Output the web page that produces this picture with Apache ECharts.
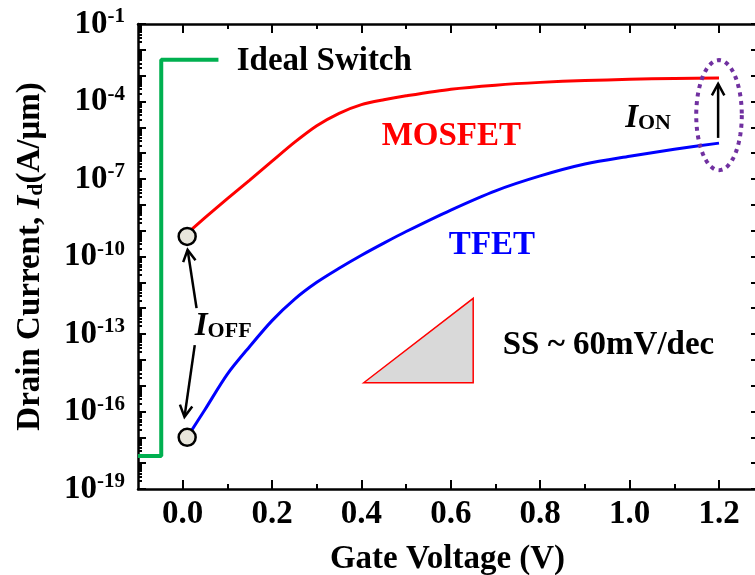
<!DOCTYPE html>
<html lang="en">
<head>
<meta charset="utf-8">
<title>Drain current vs gate voltage</title>
<script src="https://cdn.jsdelivr.net/npm/echarts@6/dist/echarts.min.js"></script>
<style>
  html, body { margin: 0; padding: 0; background: #fff; }
  #main { width: 755px; height: 575px; }
</style>
</head>
<body>
<div id="main"></div>
<script>
// gate voltage samples (V)
const gateV = [0.01, 0.05, 0.10, 0.15, 0.20, 0.25, 0.30, 0.35, 0.40, 0.45, 0.50, 0.60, 0.70, 0.80, 0.90, 1.00, 1.10, 1.20];
// drain current (A/um)
const mosfetId = [7.9e-10, 3.2e-9, 1.74e-8, 9.1e-8, 4.9e-7, 2.6e-6, 1.15e-5, 3.5e-5, 7.6e-5, 1.17e-4, 1.66e-4, 3.0e-4, 4.3e-4, 5.5e-4, 6.5e-4, 7.2e-4, 7.8e-4, 8.1e-4];
const tfetId = [1.0e-17, 1.2e-16, 2.8e-15, 3.3e-14, 3.3e-13, 2.2e-12, 1.0e-11, 3.5e-11, 1.12e-10, 3.3e-10, 9.3e-10, 6.3e-9, 3.5e-8, 1.32e-7, 3.8e-7, 7.6e-7, 1.41e-6, 2.45e-6];

// ideal switch step
const idealV = [-0.1, -0.048, -0.048, 0.08];
const idealId = [1.9e-18, 1.9e-18, 4.1e-3, 4.1e-3];

// I_OFF circles
const offV = [0.01, 0.01];
const offId = [6.0e-10, 1.0e-17];

// SS ~ 60mV/dec triangle
const triV = [0.405, 0.65, 0.65];
const triId = [1.3e-15, 2.4e-12, 1.3e-15];

// dotted ellipse round I_ON (bounding box)
const ellV = [1.149, 1.251];
const ellId = [2.2e-7, 4.0e-3];

// arrows: from V, from Id, to V, to Id
const arrows = [
  [0.031, 1.0e-12, 0.011, 1.8e-10],
  [0.027, 3.7e-14, 0.004, 6.2e-17],
  [1.198, 3.9e-6, 1.198, 4.8e-4]
];

// text notes
const noteText = ['Ideal Switch', '{r|MOSFET}', '{b|TFET}', '{i|I}{s|ON}', '{i|I}{s|OFF}', 'SS ~ 60mV/dec'];
const noteV = [0.121, 0.601, 0.692, 0.990, 0.027, 0.716];
const noteId = [3.4e-3, 4.3e-6, 2.75e-10, 2.3e-5, 2.0e-13, 3.7e-14];
const noteAlign = ['left', 'center', 'center', 'left', 'left', 'left'];

// ticks
const xMajor = [0, 0.2, 0.4, 0.6, 0.8, 1.0, 1.2];
const xMinor = [0.1, 0.3, 0.5, 0.7, 0.9, 1.1];
const yLabels = [1e-19, 1e-16, 1e-13, 1e-10, 1e-7, 1e-4, 1e-1];
const yDecades = [];
const yMinor = [];
for (let p = -19; p <= -1; p++) {
  yDecades.push(Number('1e' + p));
  if (p < -1) for (let k = 2; k <= 9; k++) yMinor.push(Number(k + 'e' + p));
}

const FONT = '"Liberation Serif", "Times New Roman", serif';
const FS = 33;
const BLACK = '#000';

const chart = echarts.init(document.getElementById('main'));

function xAx(pos, vals, len, main) {
  return {
    type: 'value', gridIndex: 0, position: pos, min: -0.1, max: 1.285,
    axisLine: { show: main, onZero: false, lineStyle: { color: BLACK, width: 2.5 } },
    axisTick: { show: true, inside: true, length: len, customValues: vals, lineStyle: { color: BLACK, width: 2 } },
    axisLabel: { show: false },
    splitLine: { show: false }
  };
}
function yAx(pos, vals, len, main) {
  return {
    type: 'log', logBase: 10, gridIndex: 0, position: pos, min: 1e-19, max: 1e-1,
    axisLine: { show: main, onZero: false, lineStyle: { color: BLACK, width: 2.5 } },
    axisTick: { show: true, inside: true, length: len, customValues: vals, lineStyle: { color: BLACK, width: 2 } },
    axisLabel: { show: false },
    splitLine: { show: false }
  };
}

const xMain = xAx('bottom', xMajor, 9, true);
xMain.axisLabel = {
  show: true, customValues: xMajor, margin: 9,
  color: BLACK, fontFamily: FONT, fontWeight: 'bold', fontSize: FS,
  formatter: v => v.toFixed(1)
};
xMain.name = 'Gate Voltage (V)';
xMain.nameLocation = 'middle';
xMain.nameGap = 54;
xMain.nameTextStyle = { color: BLACK, fontFamily: FONT, fontWeight: 'bold', fontSize: FS };

const yMain = yAx('left', yDecades, 8, true);
yMain.axisLabel = {
  show: true, customValues: yLabels, margin: 13,
  formatter: v => '{b|10}{s|' + Math.round(Math.log10(v)) + '}',
  rich: {
    b: { color: BLACK, fontFamily: FONT, fontWeight: 'bold', fontSize: FS },
    s: { color: BLACK, fontFamily: FONT, fontWeight: 'bold', fontSize: 21, padding: [0, 0, 14, 0] }
  }
};
yMain.name = '{t|Drain Current, }{i|I}{d|d}{t|(A/\u03bcm)}';
yMain.nameLocation = 'middle';
yMain.nameRotate = 90;
yMain.nameGap = 91;
yMain.nameTextStyle = {
  rich: {
    t: { color: BLACK, fontFamily: FONT, fontWeight: 'bold', fontSize: FS },
    i: { color: BLACK, fontFamily: FONT, fontWeight: 'bold', fontStyle: 'italic', fontSize: FS },
    d: { color: BLACK, fontFamily: FONT, fontWeight: 'bold', fontSize: 22, padding: [12, 0, 0, 0] }
  }
};

// rich styles for zrender text in custom series use fill
const noteRich = {
  r: { fill: '#ff0000', fontFamily: FONT, fontWeight: 'bold', fontSize: FS },
  b: { fill: '#0000ff', fontFamily: FONT, fontWeight: 'bold', fontSize: FS },
  i: { fill: BLACK, fontFamily: FONT, fontWeight: 'bold', fontStyle: 'italic', fontSize: FS },
  s: { fill: BLACK, fontFamily: FONT, fontWeight: 'bold', fontSize: 22, padding: [10, 0, 0, 0] }
};

const option = {
  animation: false,
  backgroundColor: '#fff',
  grid: { left: 138, top: 24, width: 619, height: 465, outerBoundsMode: 'none', containLabel: false },
  xAxis: [xMain, xAx('bottom', xMinor, 5, false), xAx('top', xMajor, 9, true), xAx('top', xMinor, 5, false)],
  yAxis: [yMain, yAx('left', yMinor, 4, false), yAx('right', yDecades, 6, true)],
  series: [
    {
      name: 'Ideal Switch', type: 'line', xAxisIndex: 0, yAxisIndex: 0,
      data: idealV.map((v, i) => [v, idealId[i]]),
      symbol: 'none', lineStyle: { color: '#00b050', width: 4 }
    },
    {
      name: 'MOSFET', type: 'line', xAxisIndex: 0, yAxisIndex: 0, smooth: 0.25,
      data: gateV.map((v, i) => [v, mosfetId[i]]),
      symbol: 'none', lineStyle: { color: '#ff0000', width: 3 }
    },
    {
      name: 'TFET', type: 'line', xAxisIndex: 0, yAxisIndex: 0, smooth: 0.3,
      data: gateV.map((v, i) => [v, tfetId[i]]),
      symbol: 'none', lineStyle: { color: '#0000ff', width: 3 }
    },
    {
      // SS triangle
      type: 'custom', xAxisIndex: 0, yAxisIndex: 0, silent: true,
      data: [[triV[0], triId[0]]],
      renderItem: (params, api) => ({
        type: 'polygon',
        shape: { points: triV.map((v, i) => api.coord([v, triId[i]])) },
        style: { fill: '#d9d9d9', stroke: '#ff0000', lineWidth: 1.5 }
      })
    },
    {
      // dotted ellipse
      type: 'custom', xAxisIndex: 0, yAxisIndex: 0, silent: true, z: 5,
      data: [[ellV[0], ellId[0]]],
      renderItem: (params, api) => {
        const a = api.coord([ellV[0], ellId[0]]);
        const b = api.coord([ellV[1], ellId[1]]);
        const cx = (a[0] + b[0]) / 2, cy = (a[1] + b[1]) / 2;
        const rx = Math.abs(b[0] - a[0]) / 2, ry = Math.abs(b[1] - a[1]) / 2;
        const pts = [];
        for (let k = 0; k < 120; k++) {
          const t = k / 120 * Math.PI * 2;
          pts.push([cx + rx * Math.cos(t), cy + ry * Math.sin(t)]);
        }
        return {
          type: 'polygon', shape: { points: pts },
          style: { fill: null, stroke: '#7030a0', lineWidth: 4, lineDash: [4, 4.6] }
        };
      }
    },
    {
      // arrows
      type: 'custom', xAxisIndex: 0, yAxisIndex: 0, silent: true, z: 6,
      encode: { x: [0, 2], y: [1, 3] },
      data: arrows,
      renderItem: (params, api) => {
        const a = api.coord([api.value(0), api.value(1)]);
        const b = api.coord([api.value(2), api.value(3)]);
        const ang = Math.atan2(b[1] - a[1], b[0] - a[0]);
        const h = 13, w = 0.5;
        const l = [b[0] - h * Math.cos(ang - w), b[1] - h * Math.sin(ang - w)];
        const r = [b[0] - h * Math.cos(ang + w), b[1] - h * Math.sin(ang + w)];
        return {
          type: 'group', children: [
            { type: 'line', shape: { x1: a[0], y1: a[1], x2: b[0], y2: b[1] }, style: { stroke: BLACK, lineWidth: 2.5 } },
            { type: 'polyline', shape: { points: [l, b, r] }, style: { stroke: BLACK, fill: null, lineWidth: 2.5 } }
          ]
        };
      }
    },
    {
      name: 'I_OFF', type: 'scatter', xAxisIndex: 0, yAxisIndex: 0, z: 7,
      data: offV.map((v, i) => [v, offId[i]]),
      symbol: 'circle', symbolSize: 17,
      itemStyle: { color: '#e8e6dc', borderColor: BLACK, borderWidth: 2.5, opacity: 1 }
    },
    {
      // text notes
      type: 'custom', xAxisIndex: 0, yAxisIndex: 0, silent: true, z: 8,
      data: noteV.map((v, i) => [v, noteId[i], i]),
      renderItem: (params, api) => {
        const i = api.value(2);
        const p = api.coord([api.value(0), api.value(1)]);
        return {
          type: 'text', x: p[0], y: p[1],
          style: {
            text: noteText[i], rich: noteRich,
            fill: BLACK, fontFamily: FONT, fontWeight: 'bold', fontSize: FS,
            align: noteAlign[i], verticalAlign: 'middle'
          }
        };
      }
    }
  ]
};

chart.setOption(option);
</script>
</body>
</html>
